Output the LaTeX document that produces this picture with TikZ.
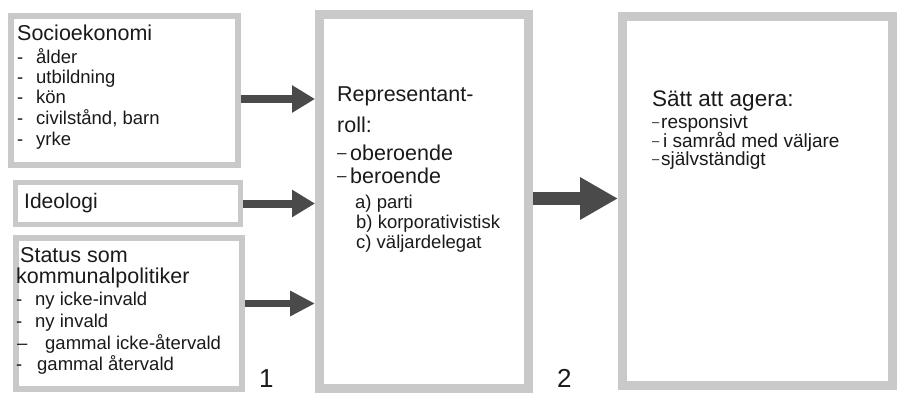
\documentclass[tikz,border=0pt]{standalone}
\usepackage{fontspec}
\setmainfont{Liberation Sans}
\usetikzlibrary{arrows.meta}
\definecolor{boxgray}{HTML}{C9C9C9}
\definecolor{arrgray}{HTML}{4A4A4A}
\definecolor{txt}{HTML}{1A1A1A}
\newcommand{\smalldash}[1]{\makebox[#1][l]{\raisebox{2pt}{\fontsize{13}{13}\selectfont –}}}
\newcommand{\middash}{\makebox[13pt][l]{\raisebox{1.8pt}{\fontsize{17}{17}\selectfont –}}}
\tikzset{
  frame/.style={draw=boxgray, fill=white, inner sep=0pt},
  line/.style={anchor=base west, inner sep=0pt, text=txt},
  head/.style={line, font=\fontsize{21.5}{24}\selectfont},
  item/.style={line, font=\fontsize{18.5}{20}\selectfont},
  ritem/.style={line, font=\fontsize{19}{20}\selectfont},
  num/.style={line, font=\fontsize{26}{28}\selectfont},
  arr/.style={draw=arrgray, line width=8pt, -{Triangle[length=23pt,width=26pt]}},
}
\begin{document}
\begin{tikzpicture}[x=1pt,y=-1pt]
\useasboundingbox (0,0) rectangle (898,394);
\fill[white] (0,0) rectangle (898,394);
% boxes
\node[frame, line width=6pt, minimum width=227pt, minimum height=149pt] (b1) at (124.5,90.5) {};
\node[frame, line width=5pt, minimum width=225pt, minimum height=42pt] (b2) at (128,203.5) {};
\node[frame, line width=6pt, minimum width=226pt, minimum height=151pt] (b3) at (129,313.5) {};
\node[frame, line width=9pt, minimum width=209pt, minimum height=374pt] (mid) at (424,201.5) {};
\node[frame, line width=9pt, minimum width=270pt, minimum height=369pt] (res) at (757.5,201) {};
% box 1
\node[head] (s0) at (17,40) {Socioekonomi};
\node[item] (s1) at (17,63) {\makebox[19pt][l]{-}ålder};
\node[item] (s2) at (17,83) {\makebox[19pt][l]{-}utbildning};
\node[item] (s3) at (17,103.5) {\makebox[19pt][l]{-}kön};
\node[item] (s4) at (17,124.5) {\makebox[19pt][l]{-}civilstånd, barn};
\node[item] (s5) at (17,145.5) {\makebox[19pt][l]{-}yrke};
% box 2
\node[head, font=\fontsize{21}{24}\selectfont] (i0) at (24,208) {Ideologi};
% box 3
\node[head] (t0) at (20,262) {Status som};
\node[head] (t1) at (16,283) {kommunalpolitiker};
\node[item] (t2) at (16,305) {\makebox[19pt][l]{-}ny icke-invald};
\node[item] (t3) at (16,327) {\makebox[19pt][l]{-}ny invald};
\node[item] (t4) at (17,349) {\makebox[28pt][l]{–}gammal icke-återvald};
\node[item] (t5) at (16,370) {\makebox[21pt][l]{-}gammal återvald};
% middle box
\node[head] (m0) at (337,101) {Representant-};
\node[head] (m1) at (337,132) {roll:};
\node[head] (m2) at (337,160) {\middash oberoende};
\node[head] (m3) at (337,183) {\middash beroende};
\node[item] (m4) at (355,208) {a) parti};
\node[item] (m5) at (356,228) {b) korporativistisk};
\node[item] (m6) at (356,248) {c) väljardelegat};
% right box
\node[head, font=\fontsize{22.5}{24}\selectfont] (r0) at (652,106) {Sätt att agera:};
\node[ritem] (r1) at (652,128) {\smalldash{9pt}responsivt};
\node[ritem] (r2) at (652,147) {\smalldash{11pt}i samråd med väljare};
\node[ritem] (r3) at (652,165) {\smalldash{9pt}självständigt};
% numbers
\node[num] (n1) at (259,387) {1};
\node[num] (n2) at (557,387) {2};
% arrows
\coordinate (y1) at (0,99);
\coordinate (y2) at (0,203.5);
\coordinate (y3) at (0,303.5);
\coordinate (y4) at (0,198.5);
\draw[arr] (b1.east |- y1) -- (mid.west |- y1);
\draw[arr] (b2.east |- y2) -- (mid.west |- y2);
\draw[arr, line width=7pt, -{Triangle[length=25pt,width=24pt]}] (b3.east |- y3) -- (mid.west |- y3);
\draw[arr, line width=13pt, -{Triangle[length=38pt,width=40pt]}] (mid.east |- y4) -- (res.west |- y4);
\end{tikzpicture}
\end{document}
